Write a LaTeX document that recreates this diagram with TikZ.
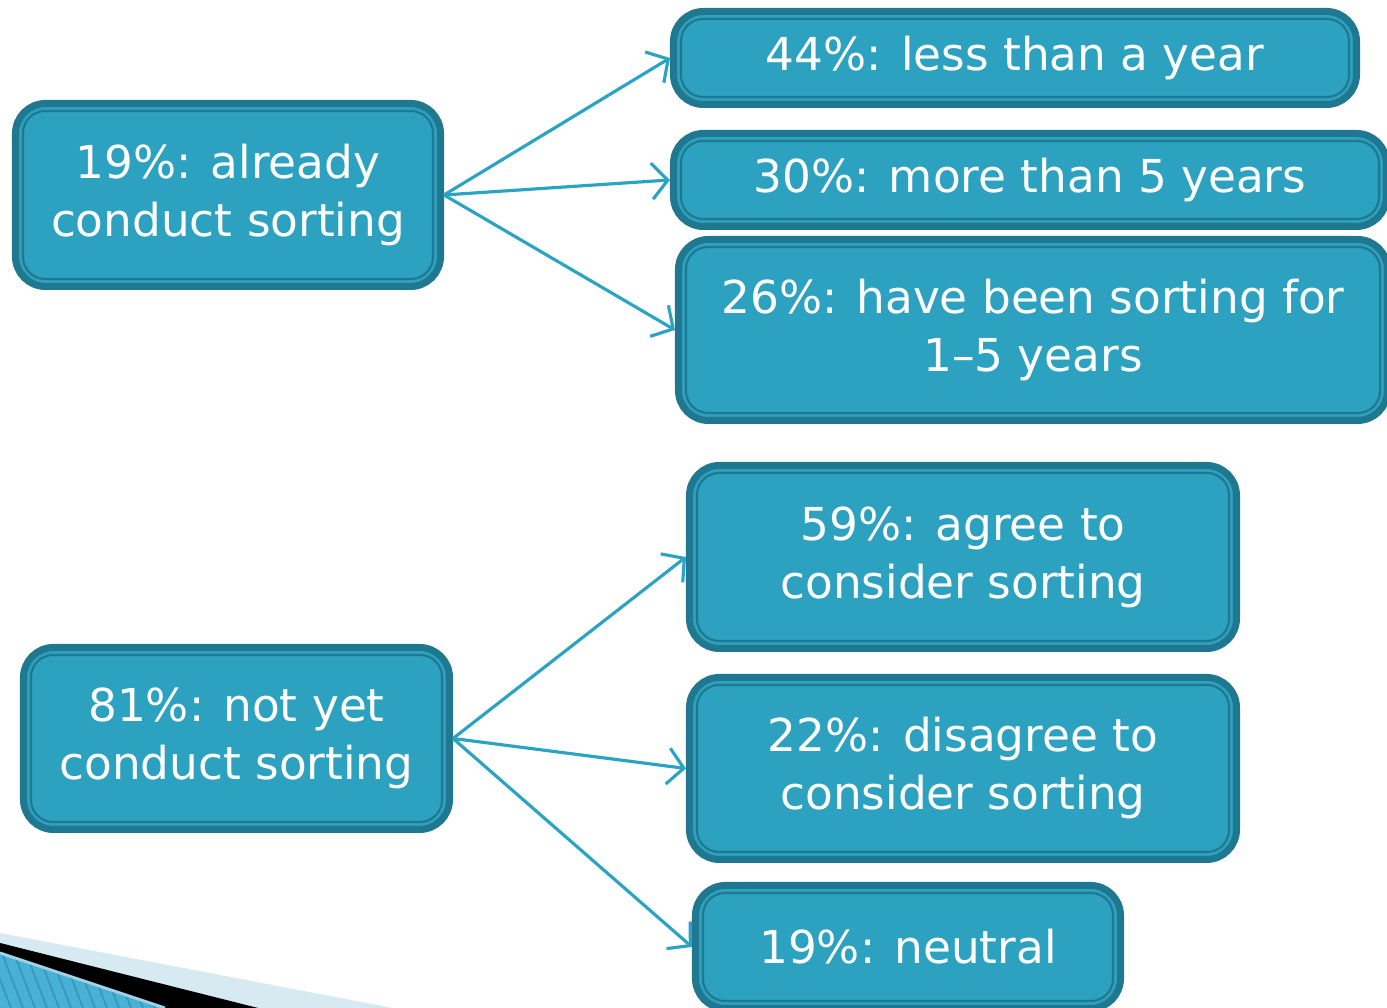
\documentclass[tikz,border=0pt]{standalone}
\usepackage{fontspec}
\setmainfont{DejaVu Sans}
\usetikzlibrary{arrows.meta}

\definecolor{boxfill}{RGB}{44,161,192}
\definecolor{boxline}{RGB}{31,120,143}
\definecolor{linkcol}{RGB}{43,163,194}
\definecolor{swooshlight}{RGB}{215,234,242}
\definecolor{swooshblue}{RGB}{74,177,214}
\definecolor{swooshstripe}{RGB}{58,150,190}

\begin{document}
\begin{tikzpicture}[
    >={Straight Barb[length=1.6mm,width=3.6mm]},
    box/.style={draw=boxline, line width=2pt, fill=boxfill, rounded corners=0.3cm,
        text=white, align=center, inner sep=0pt,
        font=\fontsize{12.9}{16.5}\selectfont,
        path picture={\draw[boxline, line width=0.6pt, rounded corners=0.22cm]
            ([shift={(0.075,0.075)}]path picture bounding box.south west) rectangle
            ([shift={(-0.075,-0.075)}]path picture bounding box.north east);}},
    link/.style={->, linkcol, line width=0.9pt}]
    \useasboundingbox (0,0) rectangle (13.87,10.08);
    \clip (0,0) rectangle (13.87,10.08);

    % swoosh in the corner
    \fill[swooshlight] (0,0.75) -- (3.93,0) -- (0,0) -- cycle;
    \fill[black] (0,0.65) -- (2.58,0) -- (0,0) -- cycle;
    \fill[swooshblue] (0,0.55) -- (1.65,0) -- (0,0) -- cycle;
    \begin{scope}
        \clip (0,0.55) -- (1.65,0) -- (0,0) -- cycle;
        \foreach \s in {-3,...,16}
            \draw[swooshstripe, line width=0.5pt] (0.12*\s,0.6) -- ++(0.23,-0.6);
    \end{scope}
    \draw[swooshlight!60!swooshblue, line width=0.8pt] (0,0.55) -- (1.65,0);

    % sorting already
    \node[box, minimum width=4.25cm, minimum height=1.83cm] (already) at (2.28,8.13) {19\%: already\\conduct sorting};
    \node[box, minimum width=6.83cm, minimum height=0.93cm] (lessyear) at (10.15,9.50) {44\%: less than a year};
    \node[box, minimum width=7.13cm, minimum height=0.93cm] (morefive) at (10.30,8.28) {30\%: more than 5 years};
    \node[box, minimum width=7.09cm, minimum height=1.81cm] (onefive) at (10.33,6.78) {26\%: have been sorting for\\1--5 years};

    % not sorting yet
    \node[box, minimum width=4.26cm, minimum height=1.82cm] (notyet) at (2.365,2.695) {81\%: not yet\\conduct sorting};
    \node[box, minimum width=5.47cm, minimum height=1.83cm] (agree) at (9.63,4.51) {59\%: agree to\\consider sorting};
    \node[box, minimum width=5.47cm, minimum height=1.82cm] (disagree) at (9.63,2.395) {22\%: disagree to\\consider sorting};
    \node[box, minimum width=4.25cm, minimum height=1.23cm] (neutral) at (9.08,0.61) {19\%: neutral};

    \foreach \t in {lessyear,morefive,onefive}
        \draw[link] (already.east) -- (\t.west);
    \foreach \t in {agree,disagree,neutral}
        \draw[link] (notyet.east) -- (\t.west);
\end{tikzpicture}
\end{document}
